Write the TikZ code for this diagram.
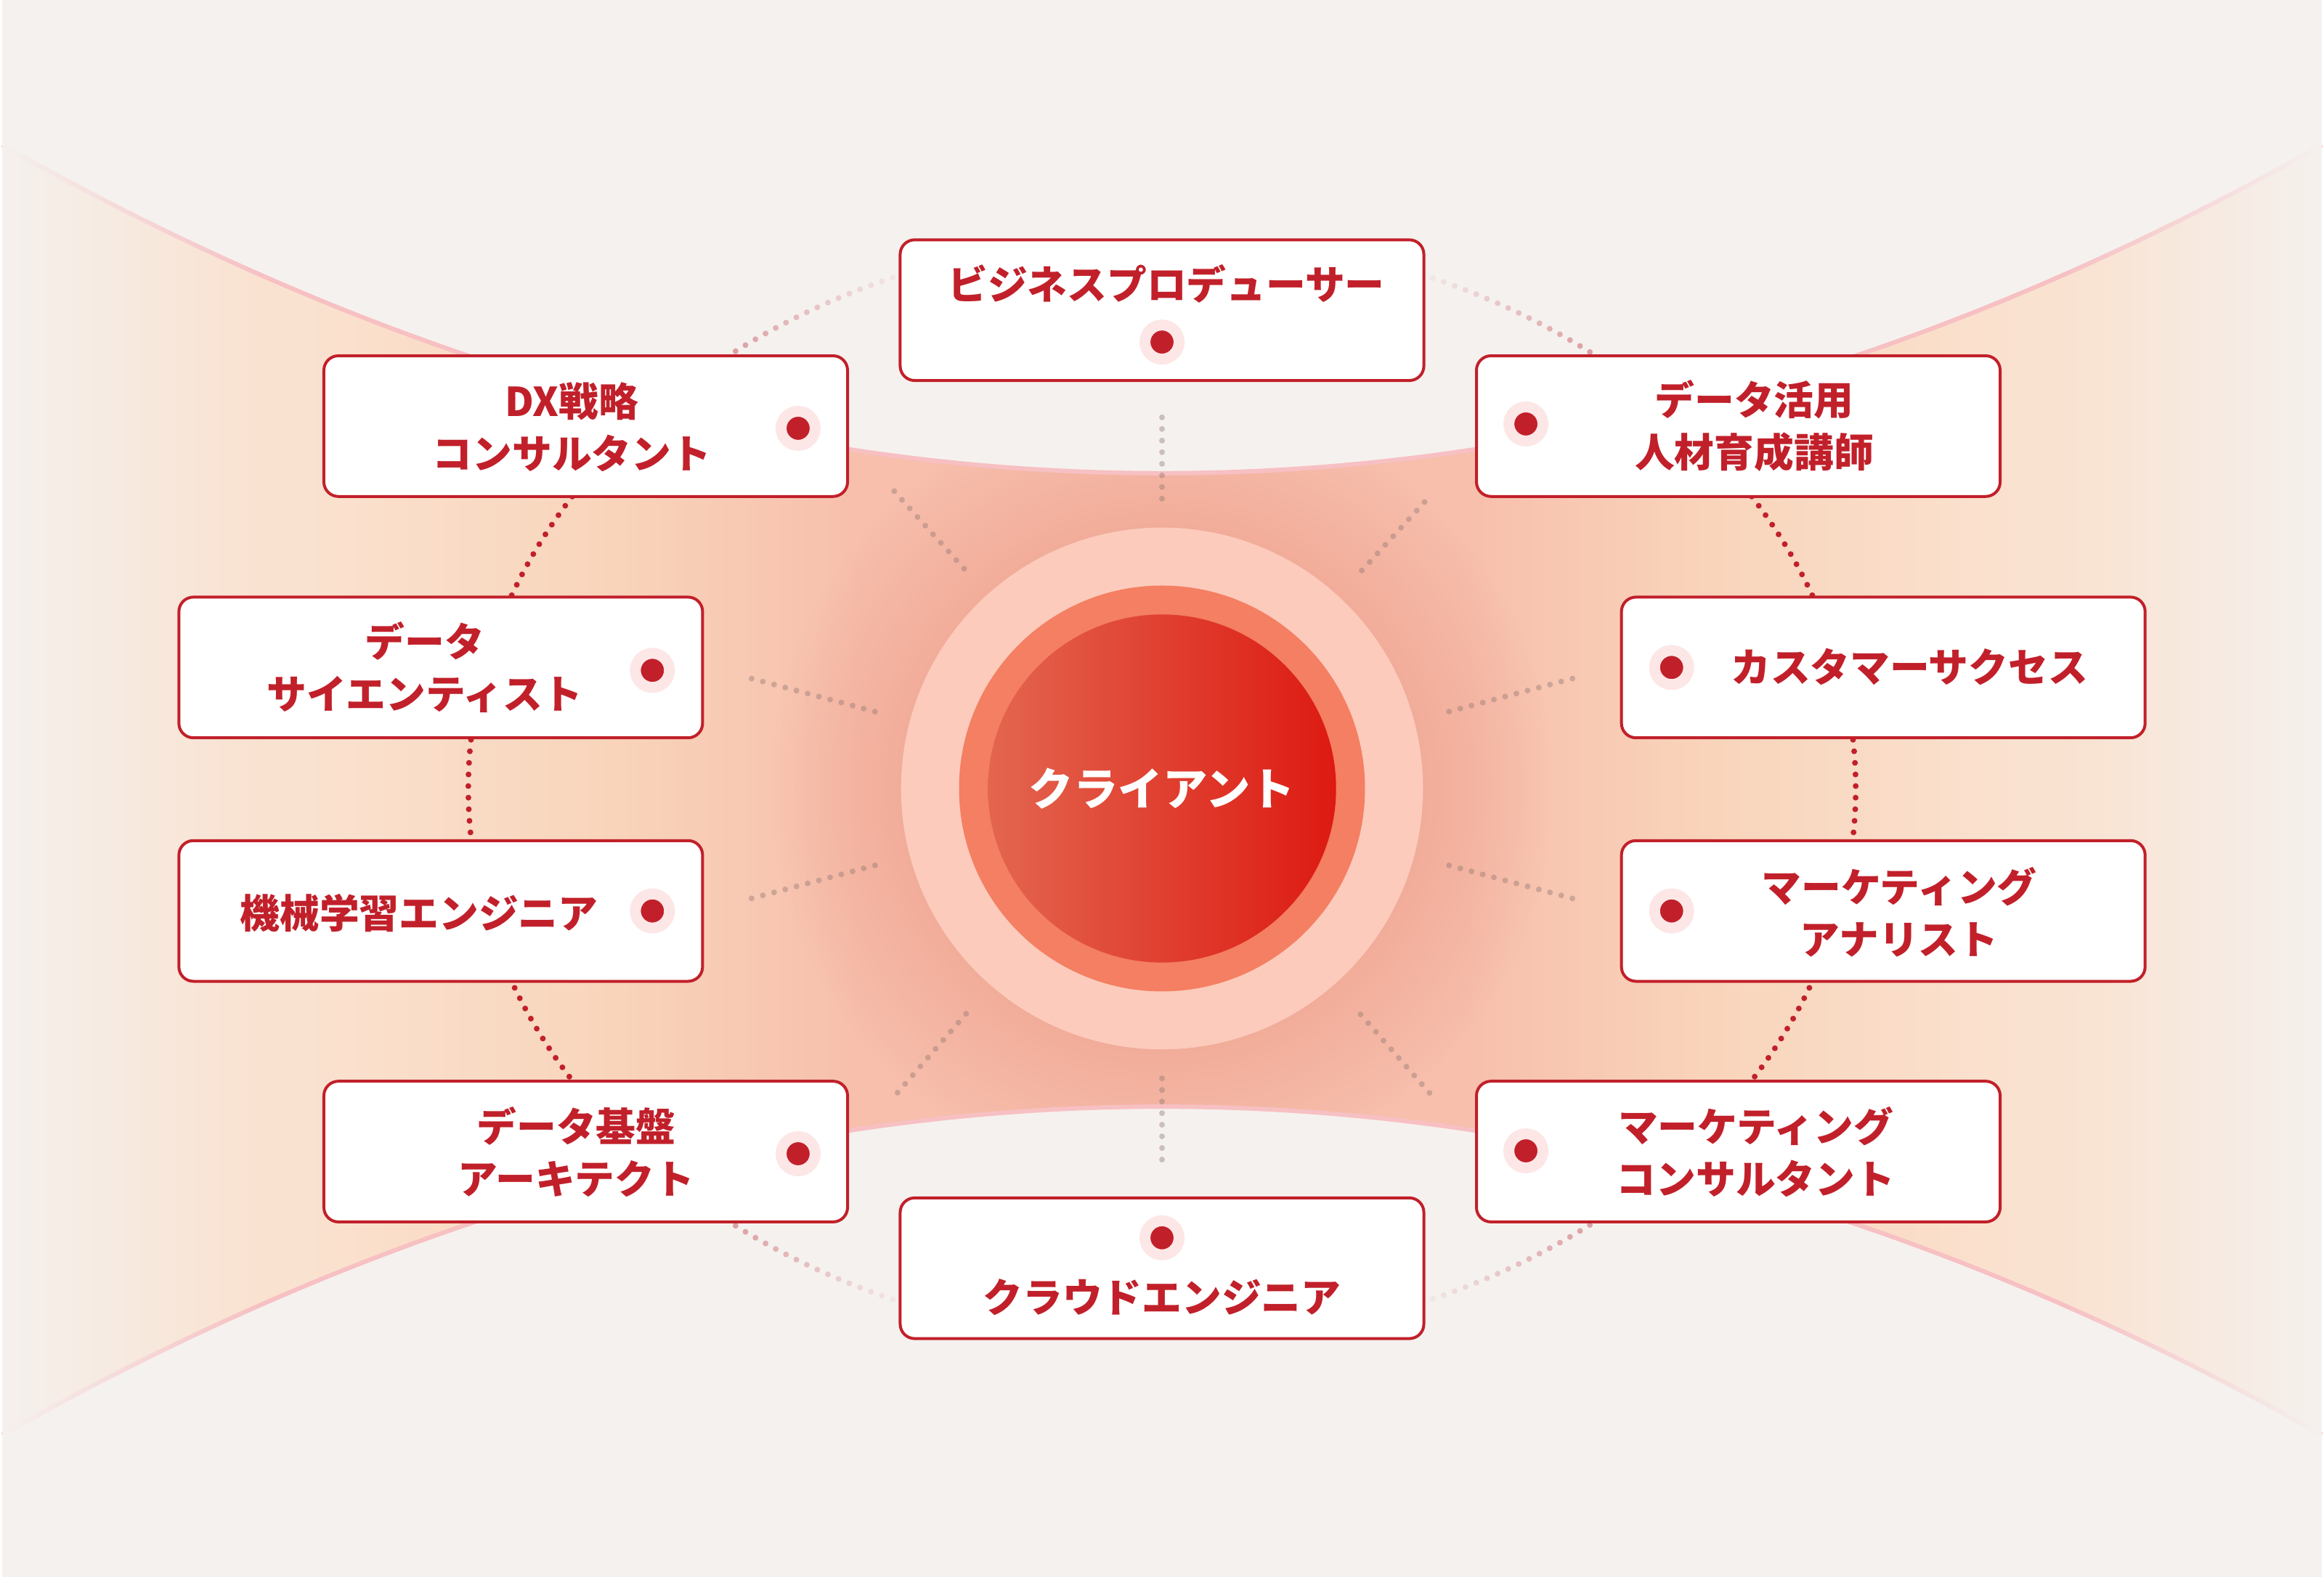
\documentclass[tikz,border=0pt]{standalone}
\usepackage{fontspec}
\newfontfamily\jpfont{Noto Sans CJK JP}
\usepackage{tikz}
\usetikzlibrary{calc,fadings,positioning}
\definecolor{bgbeige}{HTML}{F5F1EE}
\definecolor{boxred}{HTML}{C1202A}
\definecolor{halo}{HTML}{FDE6E6}
\definecolor{peachlight}{HTML}{FAE2D0}
\definecolor{peach}{HTML}{F9D5BC}
\definecolor{salmon}{HTML}{F7BFAC}
\definecolor{glowred}{HTML}{EC9886}
\definecolor{rimpink}{HTML}{F7C0C3}
\definecolor{ringpale}{HTML}{FCCBBC}
\definecolor{ringorange}{HTML}{F47F62}
\definecolor{coreleft}{HTML}{E3664F}
\definecolor{coreright}{HTML}{DD1A12}
\definecolor{dotpink}{HTML}{D9979C}
\definecolor{spokegray}{HTML}{8C7470}
\pgfdeclareradialshading{glowshade}{\pgfpoint{0bp}{0bp}}{color(0bp)=(pgftransparent!50); color(16bp)=(pgftransparent!50); color(25bp)=(pgftransparent!100); color(50bp)=(pgftransparent!100)}
\pgfdeclarefading{glowfade}{\pgfuseshading{glowshade}}
\tikzfading[name=fadetoright, left color=transparent!0, right color=transparent!100]
\tikzfading[name=fadetoleft, left color=transparent!100, right color=transparent!0]
\tikzset{
	rolebox/.style={
		draw=boxred, line width=0.04cm, fill=white,
		rounded corners=0.2cm, inner sep=0pt,
		minimum width=7.22cm, minimum height=1.94cm
	},
	reddot/.style={
		circle, fill=boxred, draw=halo, line width=0.15cm,
		minimum size=0.47cm, inner sep=0pt
	},
	rolelabel/.style={
		text=boxred, align=center, inner sep=0pt,
		font=\jpfont\bfseries\fontsize{15.6pt}{20.5pt}\selectfont
	},
	coreshape/.style={
		circle, minimum size=4.8cm, inner sep=0pt,
		left color=coreleft, right color=coreright, text=white,
		font=\jpfont\bfseries\fontsize{17.5pt}{21pt}\selectfont
	},
	ringdots/.style={line width=0.08cm, line cap=round, dash pattern=on 0pt off 0.16cm},
	spokedots/.style={ringdots, draw=spokegray, opacity=0.4},
	rim/.style={draw=rimpink, line width=0.06cm}
}
\begin{document}
\begin{tikzpicture}[x=0.01cm, y=-0.01cm]
	\fill[bgbeige] (0,0) rectangle (3200,2176);
	\coordinate (hub) at (1600,1088);
	\begin{scope}
		\clip (0,200) .. controls (1067,804) and (2133,804) .. (3200,200)
			-- (3200,1980) .. controls (2133,1376) and (1067,1376) .. (0,1980) -- cycle;
		\fill[peachlight] (0,0) rectangle (421,2176);
		\shade[left color=peachlight, right color=peach] (420,0) rectangle (821,2176);
		\shade[left color=peach, right color=salmon] (820,0) rectangle (1181,2176);
		\fill[salmon] (1180,0) rectangle (2020,2176);
		\shade[left color=salmon, right color=peach] (2019,0) rectangle (2380,2176);
		\shade[left color=peach, right color=peachlight] (2379,0) rectangle (2780,2176);
		\fill[peachlight] (2779,0) rectangle (3200,2176);
		\fill[glowred, path fading=glowfade] (hub) circle (540);
	\end{scope}
	\draw[rim] (0,200) .. controls (1067,804) and (2133,804) .. (3200,200);
	\draw[rim] (0,1980) .. controls (1067,1376) and (2133,1376) .. (3200,1980);
	\fill[bgbeige, path fading=fadetoright] (0,0) rectangle (360,2176);
	\fill[bgbeige, path fading=fadetoleft] (2840,0) rectangle (3200,2176);

	\draw[ringdots, draw=boxred] ($(hub)+(214:957 and 765)$) arc[start angle=214, end angle=146, x radius=957, y radius=765];
	\draw[ringdots, draw=boxred] ($(hub)+(-34:957 and 765)$) arc[start angle=-34, end angle=34, x radius=957, y radius=765];
	\draw[ringdots, draw=dotpink, path fading=fadetoright] ($(hub)+(230:957 and 765)$) arc[start angle=230, end angle=249, x radius=957, y radius=765];
	\draw[ringdots, draw=dotpink, path fading=fadetoleft] ($(hub)+(291:957 and 765)$) arc[start angle=291, end angle=310, x radius=957, y radius=765];
	\draw[ringdots, draw=dotpink, path fading=fadetoright] ($(hub)+(130:957 and 765)$) arc[start angle=130, end angle=111, x radius=957, y radius=765];
	\draw[ringdots, draw=dotpink, path fading=fadetoleft] ($(hub)+(69:957 and 765)$) arc[start angle=69, end angle=50, x radius=957, y radius=765];

	\foreach \ang/\rin/\rout in {-90/400/520, 90/400/520, -132/408/560, -47.5/408/552,
			131/412/562, 48.7/415/560, -165/410/590, 165/410/590, -15/410/602, 15/410/592}
		\draw[spokedots] ($(hub)+(\ang:\rin)$) -- ($(hub)+(\ang:\rout)$);

	\fill[ringpale] (hub) circle (360);
	\fill[ringorange] (hub) circle (280);
	\node[coreshape] (client) at (hub) {クライアント};

	\node[rolebox] (bp) at (1600,428) {};
	\node[reddot] (bpdot) at ($(bp)+(0,44)$) {};
	\node[rolelabel] (bptext) at ($(bp)+(6,-36)$) {ビジネスプロデューサー};

	\node[rolebox] (dx) at (805,588) {};
	\node[reddot] (dxdot) at ($(dx)+(293,3)$) {};
	\node[rolelabel] (dxtext) at ($(dx)+(-19,1)$) {DX戦略\\コンサルタント};

	\node[rolebox] (dk) at (2395,588) {};
	\node[reddot] (dkdot) at ($(dk)+(-293,-3)$) {};
	\node[rolelabel] (dktext) at ($(dk)+(22,0)$) {データ活用\\人材育成講師};

	\node[rolebox] (ds) at (605,921) {};
	\node[reddot] (dsdot) at ($(ds)+(292,4)$) {};
	\node[rolelabel] (dstext) at ($(ds)+(-22,0)$) {データ\\サイエンティスト};

	\node[rolebox] (cs) at (2595,921) {};
	\node[reddot] (csdot) at ($(cs)+(-292,0)$) {};
	\node[rolelabel] (cstext) at ($(cs)+(36,-1)$) {カスタマーサクセス};

	\node[rolebox] (ml) at (605,1257) {};
	\node[reddot] (mldot) at ($(ml)+(292,0)$) {};
	\node[rolelabel] (mltext) at ($(ml)+(-30,3)$) {機械学習エンジニア};

	\node[rolebox] (ma) at (2595,1257) {};
	\node[reddot] (madot) at ($(ma)+(-292,0)$) {};
	\node[rolelabel] (matext) at ($(ma)+(22,2)$) {マーケティング\\アナリスト};

	\node[rolebox] (db) at (805,1589) {};
	\node[reddot] (dbdot) at ($(db)+(293,3)$) {};
	\node[rolelabel] (dbtext) at ($(db)+(-13,1)$) {データ基盤\\アーキテクト};

	\node[rolebox] (mc) at (2395,1589) {};
	\node[reddot] (mcdot) at ($(mc)+(-293,-1)$) {};
	\node[rolelabel] (mctext) at ($(mc)+(24,1)$) {マーケティング\\コンサルタント};

	\node[rolebox] (cloud) at (1600,1750) {};
	\node[reddot] (clouddot) at ($(cloud)+(0,-42)$) {};
	\node[rolelabel] (cloudtext) at ($(cloud)+(0,40)$) {クラウドエンジニア};
\end{tikzpicture}
\end{document}
